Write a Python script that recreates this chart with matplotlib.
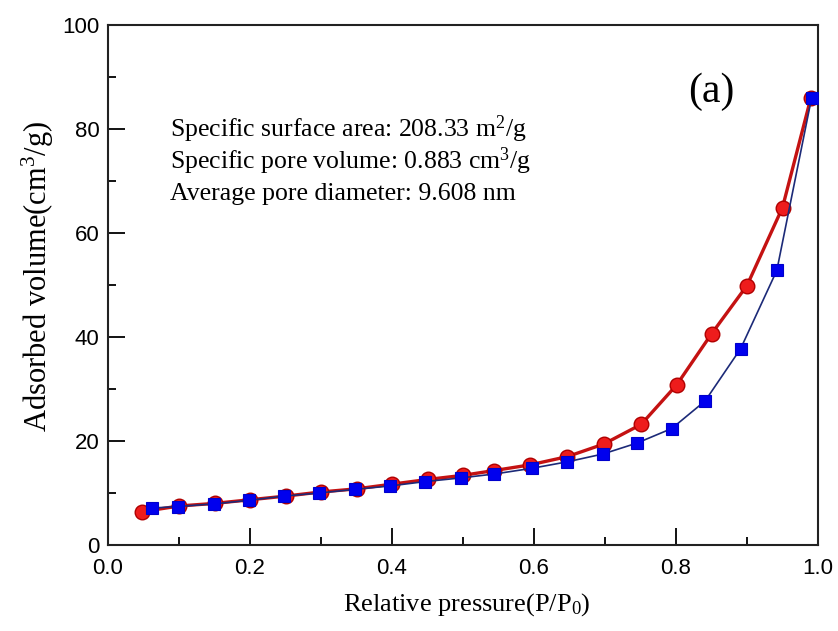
import matplotlib
matplotlib.use("Agg")
import matplotlib.pyplot as plt
from matplotlib.ticker import MultipleLocator

plt.rcParams['mathtext.fontset'] = 'custom'
plt.rcParams['mathtext.rm'] = 'Liberation Serif'
plt.rcParams['mathtext.it'] = 'Liberation Serif:italic'

# Desorption branch (red spheres)
des_x = [0.048, 0.10, 0.15, 0.20, 0.25, 0.30, 0.35, 0.40, 0.45, 0.50,
         0.543, 0.594, 0.647, 0.698, 0.751, 0.801, 0.85, 0.90, 0.95, 0.99]
des_y = [6.4, 7.5, 8.0, 8.7, 9.4, 10.2, 10.8, 11.7, 12.6, 13.4,
         14.3, 15.4, 17.0, 19.4, 23.2, 30.8, 40.6, 49.9, 64.9, 86.0]

# Adsorption branch (blue squares)
ads_x = [0.062, 0.098, 0.149, 0.199, 0.248, 0.297, 0.348, 0.397, 0.447, 0.497,
         0.544, 0.597, 0.647, 0.697, 0.745, 0.794, 0.841, 0.891, 0.942, 0.991]
ads_y = [7.1, 7.4, 7.9, 8.6, 9.4, 10.0, 10.7, 11.35, 12.2, 12.9,
         13.65, 14.75, 16.0, 17.5, 19.6, 22.4, 27.7, 37.75, 52.8, 86.0]

x_ticks = [0.0, 0.2, 0.4, 0.6, 0.8, 1.0]
y_ticks = [0, 20, 40, 60, 80, 100]

info_lines = ["Specific surface area: 208.33 m$^2$/g",
              "Specific pore volume: 0.883 cm$^3$/g",
              "Average pore diameter: 9.608 nm"]

fig = plt.figure(figsize=(8.38, 6.31), dpi=100)
ax = fig.add_axes([108/838, 1-545/631, 710/838, 520/631])

ax.plot(des_x, des_y, color='#c41212', lw=2.4, marker='o', ms=10.5,
        markerfacecolor='#ee1c1c', markeredgecolor='#b00000', markeredgewidth=1.0, zorder=3)
ax.plot(ads_x, ads_y, color='#1c2a78', lw=1.2, marker='s', ms=9,
        markerfacecolor='#0000ee', markeredgecolor='#0000cc', markeredgewidth=0.8, zorder=4)

ax.set_xlim(0, 1.0)
ax.set_ylim(0, 100)
ax.set_xticks(x_ticks)
ax.set_yticks(y_ticks)
ax.set_xticklabels([f"{v:.1f}" for v in x_ticks], family='Liberation Sans', fontsize=16)
ax.set_yticklabels([str(v) for v in y_ticks], family='Liberation Sans', fontsize=16)
ax.xaxis.set_minor_locator(MultipleLocator(0.1))
ax.yaxis.set_minor_locator(MultipleLocator(10))
ax.tick_params(axis='x', which='major', pad=9)
ax.tick_params(axis='y', which='major', pad=6)
ax.tick_params(which='major', direction='in', length=12, width=1.3, top=False, right=False)
ax.tick_params(which='minor', direction='in', length=6, width=1.3, top=False, right=False)
for s in ax.spines.values():
    s.set_linewidth(1.5)
    s.set_color('#222222')

ax.set_xlabel("Relative pressure(P/P$_0$)", family='Liberation Serif', fontsize=19)
ax.set_ylabel("Adsorbed volume(cm$^3$/g)", family='Liberation Serif', fontsize=22)
ax.xaxis.set_label_coords((467 - 108) / 710, (545 - 605) / 520)
ax.xaxis.label.set_va('center')
ax.yaxis.set_label_coords((38 - 108) / 710, (545 - 276) / 520)
ax.yaxis.label.set_va('center')

for i, t in enumerate(info_lines):
    fig.text(170/838, 1-(129+32.5*i)/631, t, family='Liberation Serif', fontsize=18.5,
             ha='left', va='center')
fig.text(711/838, 1-92/631, "(a)", family='Liberation Serif', fontsize=30, ha='center', va='center')

fig.savefig("out.png", dpi=100)
